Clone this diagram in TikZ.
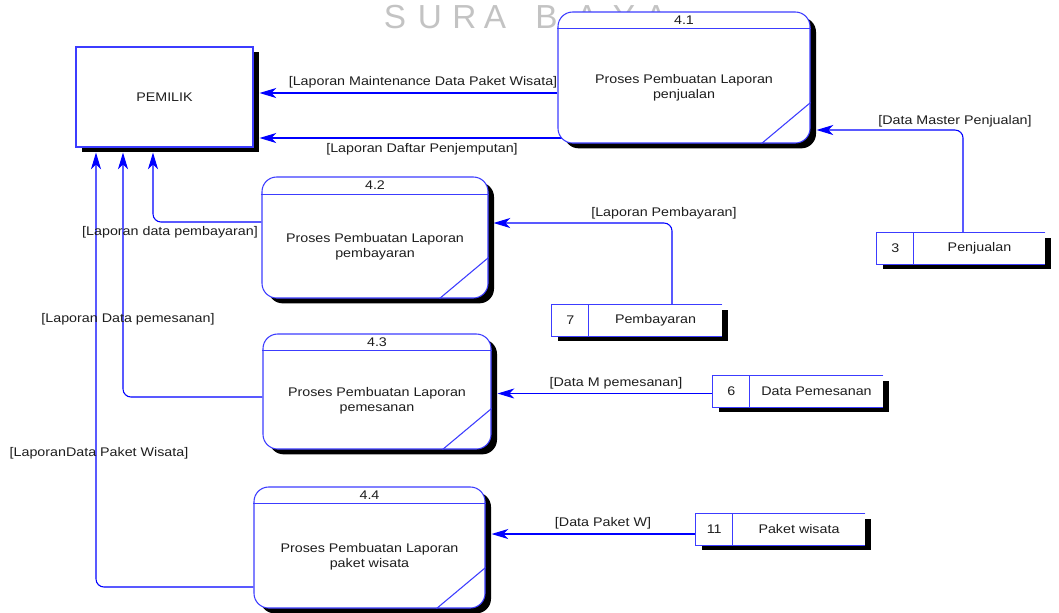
\documentclass[tikz,border=0pt]{standalone}
\usepackage{fontspec}
\setmainfont{Liberation Sans}[FakeStretch=1.14]
\newfontfamily\wmfont{Liberation Sans}
\usetikzlibrary{arrows.meta,calc,shadows}
\definecolor{flowblue}{RGB}{0,0,255}
\definecolor{boxblue}{RGB}{60,60,255}
\definecolor{txtcol}{RGB}{30,30,30}
\definecolor{wmgray}{RGB}{195,195,195}
\pgfdeclarelayer{wm}\pgfdeclarelayer{bg}\pgfsetlayers{wm,bg,main}
\begin{document}
\begin{tikzpicture}[x=0.75pt,y=-0.75pt,
 every node/.style={font=\fontsize{9.4}{11.25}\selectfont, text=txtcol},
 shad/.style={drop shadow={fill=black,opacity=1,shadow xshift=4.5pt,shadow yshift=-4pt}},
 proc/.style={draw=boxblue, line width=0.8pt, fill=white, rounded corners=11pt, inner sep=0pt, shad},
 ext/.style={draw=boxblue, line width=0.8pt, fill=white, inner sep=0pt, shad},
 storebox/.style={fill=white, inner sep=0pt, shad},
 edge/.style={draw=boxblue, line width=0.8pt},
 flow/.style={draw=flowblue, line width=0.8pt, -{Stealth[length=12.5pt,width=7.5pt,inset=3.5pt]}},
 lbl/.style={inner sep=0pt},
 wm/.style={font=\wmfont\fontsize{25}{25}\selectfont, text=wmgray, anchor=base, inner sep=0pt}
]
\useasboundingbox (0,0) rectangle (1059,612);

% watermark
\begin{pgfonlayer}{wm}
\foreach \x/\c [count=\i] in {395/S,430/U,464.5/R,495/A,546.5/B,587/A,624/Y,656/A}
  \node[wm] (wm\i) at (\x,28) {\c};
\end{pgfonlayer}

% external entity
\node[ext, minimum width=132.75pt, minimum height=75pt] (pem) at (164.5,97) {PEMILIK};

% processes
\node[proc, minimum width=189pt, minimum height=98.25pt] (p41) at (684,77.5) {};
\node[proc, minimum width=169.5pt, minimum height=90.75pt] (p42) at (375,237.5) {};
\node[proc, minimum width=171pt, minimum height=86.25pt] (p43) at (377,391.5) {};
\node[proc, minimum width=173.25pt, minimum height=90.75pt] (p44) at (369.5,547.5) {};

\foreach \p/\id/\hd in {p41/4.1/17, p42/4.2/18, p43/4.3/17, p44/4.4/17}{
  \draw[edge] ($(\p.north west)+(0,\hd)$) -- ($(\p.north east)+(0,\hd)$);
  \draw[edge] ($(\p.south east)+(-49,0)$) -- ($(\p.south east)+(0,-41)$);
  \node (\p id) at ($(\p.north)+(0,8.5)$) {\id};
}
\node[align=center] (p41t) at ($(p41.center)+(0,10)$) {Proses Pembuatan Laporan\\penjualan};
\node[align=center] (p42t) at ($(p42.center)+(0,9)$) {Proses Pembuatan Laporan\\pembayaran};
\node[align=center] (p43t) at ($(p43.center)+(0,9)$) {Proses Pembuatan Laporan\\pemesanan};
\node[align=center] (p44t) at ($(p44.center)+(0,9.5)$) {Proses Pembuatan Laporan\\paket wisata};

% data stores
\node[storebox, minimum width=126pt, minimum height=23.25pt] (s3) at (961,248.5) {};
\node[storebox, minimum width=127.5pt, minimum height=23.25pt] (s7) at (637,320.5) {};
\node[storebox, minimum width=127.5pt, minimum height=23.25pt] (s6) at (798,391.5) {};
\node[storebox, minimum width=126.75pt, minimum height=23.25pt] (s11) at (780.5,529.5) {};
\foreach \s/\n/\t in {s3/3/Penjualan, s7/7/Pembayaran, s6/6/Data Pemesanan, s11/11/Paket wisata}{
  \draw[edge] (\s.north east) -- (\s.north west) -- (\s.south west) -- (\s.south east);
  \draw[edge] ($(\s.north west)+(37,0)$) -- ($(\s.south west)+(37,0)$);
  \node (\s n) at ($(\s.west)+(18.5,0)$) {\n};
  \node (\s t) at ($(\s.center)+(18.5,0)$) {\t};
}

% flows
\begin{pgfonlayer}{bg}
\draw[flow] ($(p41.west)+(0,15.5)$) -- ($(pem.east)+(6,-4)$);
\draw[flow] ($(p41.west)+(10,60.5)$) -- ($(pem.east)+(6,41)$);
\draw[flow, rounded corners=6pt] ($(s3.north)+(2,0)$) |- ($(p41.east)+(6,52.5)$);
\draw[flow, rounded corners=6pt] ($(s7.north)+(35,0)$) |- ($(p42.east)+(5,-14.5)$);
\draw[flow] ($(s6.west)+(0,2)$) -- ($(p43.east)+(6,2)$);
\draw[flow] ($(s11.west)+(0,4.5)$) -- ($(p44.east)+(6,-13.5)$);
\draw[flow, rounded corners=6pt] ($(p42.west)+(0,-15.5)$) -| ($(pem.south)+(-11.5,5)$);
\draw[flow, rounded corners=6pt] ($(p43.west)+(0,5.5)$) -| ($(pem.south)+(-41.5,5)$);
\draw[flow, rounded corners=6pt] ($(p44.west)+(0,39.5)$) -| ($(pem.south)+(-68.5,5)$);
\end{pgfonlayer}

% labels
\node[lbl] (l1) at (423,82) {[Laporan Maintenance Data Paket Wisata]};
\node[lbl] (l2) at (422,149) {[Laporan Daftar Penjemputan]};
\node[lbl] (l3) at (955,121) {[Data Master Penjualan]};
\node[lbl] (l4) at (664,213) {[Laporan Pembayaran]};
\node[lbl] (l5) at (170,232) {[Laporan data pembayaran]};
\node[lbl] (l6) at (128,319) {[Laporan Data pemesanan]};
\node[lbl] (l7) at (616,383) {[Data M pemesanan]};
\node[lbl] (l8) at (99,453) {[LaporanData Paket Wisata]};
\node[lbl] (l9) at (603,523) {[Data Paket W]};
\end{tikzpicture}
\end{document}
